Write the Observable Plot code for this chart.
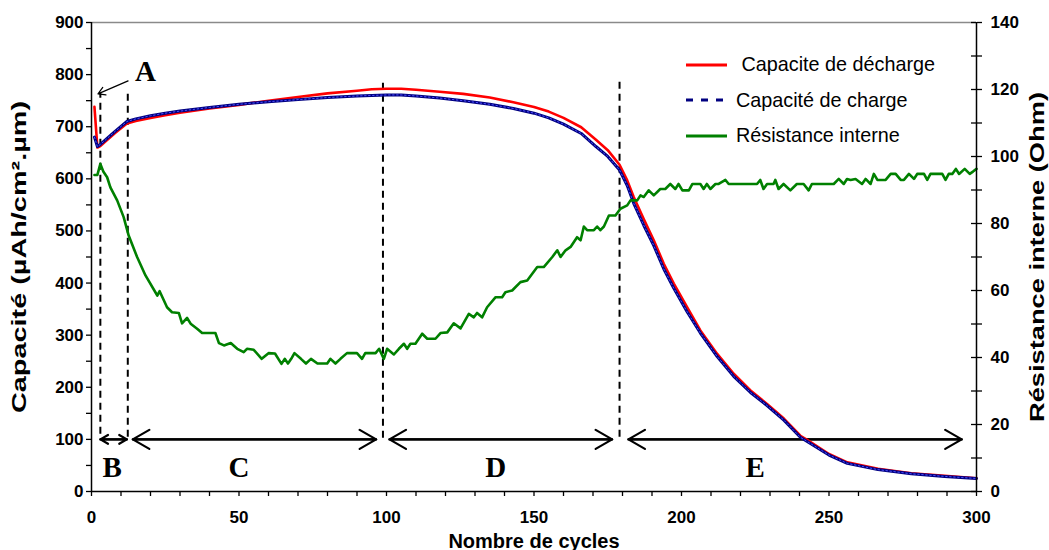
<!DOCTYPE html>
<html>
<head>
<meta charset="utf-8">
<script src="https://cdn.jsdelivr.net/npm/d3@7"></script>
<script src="https://cdn.jsdelivr.net/npm/@observablehq/plot@0.6"></script>
<style>
  html, body { margin: 0; padding: 0; background: #fff; }
  #wrap { position: relative; width: 1049px; height: 550px; }
  #legend { position: absolute; left: 686px; top: 47px; font-family: "Liberation Sans", Arial, sans-serif; font-size: 19.8px; color: #000; }
  #legend .row { display: flex; align-items: center; height: 35.5px; white-space: pre; }
  #legend svg { flex: none; display: block; }
</style>
</head>
<body>
<div id="wrap"></div>
<script>
// ---------- data ----------
const cycDis = [1,2,3,5,8,12,15,20,25,30,40,50,60,70,80,90,95,100,105,110,118,126,135,143,150,155,160,166,171,175,179,181.6,183.8,187.2,190.6,194,197.4,201.9,206.4,212.1,217.7,223.4,229,234.7,240.3,242.6,250,256.2,266.6,277.9,289.2,300];
const capDis = [738,660,663,673,688,706,711,717,722,727,735,742,750,757,764,769,772,773,773,771,767,763,756,747,738,729,717,699,675,655,627,597,565,523,482,437,399,354,309,264,226,194,168,140,107,99,72,56,43.5,35,30,25.5];

const cycCh = [1,2,3,5,8,12,15,20,25,30,40,50,60,70,80,90,95,100,105,110,118,126,135,143,150,155,160,166,171,175,179,181.6,183.8,187.2,190.6,194,197.4,201.9,206.4,212.1,217.7,223.4,229,234.7,240.3,242.6,250,256.2,266.6,277.9,289.2,300];
const capCh = [680,662,666,676,691,710,715,721,726,730,737,743,748,752,756,759,760,761,761,759,755,750,743,735,726,717,705,687,662,643,617,587,553,511,472,427,390,345,304,259,221,190,165,137,104,96,70,54,42,34,29,25];

const cycRes = [1,2,3,4,5.3,6.4,8.7,10.9,12.6,15.5,18.3,22.3,23.1,25.6,27.3,29.6,30.7,32.4,33.6,35.8,37.5,42,43.2,44.9,47.2,49.4,51.6,52.7,55,57.7,60,62.2,64.4,65.5,66.6,67.7,68.8,71,72.7,74.4,76.6,79.9,81,82.7,84.4,86.6,90,91.7,92.8,96.3,97.5,99.1,100.2,102.5,104.2,105.9,107,108.1,109.8,112.1,113.8,116.6,118.3,120.6,122.8,125.1,127.9,129.6,130.7,132.4,134.1,137,139.2,140.3,142.6,145.4,147.7,151.1,153.3,156.2,157.9,159,160.7,162.4,164.6,165.8,166.9,168,170.3,171.4,172.5,173.7,175.4,177.6,179.3,181.6,182.7,185,186.1,187.2,188.9,190.6,192.8,194.5,196.2,197.9,199,200.3,202.5,203.7,206.4,207.5,208.6,209.8,211.5,212.6,214.9,216,225.6,226.7,227.8,229,231.2,231.8,232.9,234.6,236.9,239.1,241.4,243.1,244.2,251.6,253.3,255,256.1,257.3,259,261.2,262.4,264.1,265.2,266.4,269.2,270.9,272.6,274.3,275.4,277.1,278.8,279.9,282.2,283.3,284.4,288.4,289.5,290.6,291.8,293,294.1,296,297.7,298.8,300];
const resOhm = [94.5,94.5,97.8,95.5,93.8,90.8,86.9,81.9,76.4,69.9,64.5,58.5,59.8,55,53.5,53.3,50.2,51.8,50.1,48.6,47.3,47.3,44.3,43.6,44.3,42.6,41.6,42.6,42.3,39.6,41.3,41.2,38.1,39.6,38.2,39.6,41.3,39.6,38.2,39.6,38.2,38.2,39.6,38.2,39.6,41.3,41.3,39.6,41.3,41.3,42.6,39.6,42.6,40.9,42.6,44.1,42.6,44.1,44.1,47.1,45.6,45.6,47.3,47.5,50.2,48.7,53,52,53.3,52,55,58,58,59.5,60,62.5,63,67,67,70,72,70,72,73,75.9,75,79.1,78,78,79.1,78,79.1,82.4,82.4,84.4,85.4,86.9,86.9,88.4,87.9,89.9,88.4,90.3,90.3,91.8,90.3,91.8,89.9,89.9,91.8,91.8,90.3,91.8,90.3,91.8,91.8,93,91.8,91.8,93,90.3,91.8,91.8,93,90.3,91.8,89.9,91.8,91.8,89.9,91.8,91.8,93.3,91.8,93.3,93,93.3,91.8,93.3,91.8,94.8,93,93,94.8,94.8,93,93,94.8,93.3,94.8,94.8,93,94.8,94.8,93,94.8,94.8,96.3,94.8,96.3,94.8,95.5,96.3];

// phase dividers (dashed verticals) and phase arrows
const divCycle  = [3, 12.3, 98.8, 179];
const divTop    = [764, 764, 785, 790];
const divBottom = [110, 104, 102, 104];
const phaseStart = [3, 14, 101, 182];
const phaseEnd   = [12, 96.5, 176.5, 295];
const phaseLevel = 100;
const phaseLetters = ["B", "C", "D", "E"];
const letterCycle  = [7, 50, 137, 225];
const letterLevel  = 45;
const annotA = [{label: "A", tx: 18.3, ty: 806, x1: 12.4, y1: 788, x2: 2.2, y2: 763}];

const xTicks = d3.range(0, 301, 10);
const yTicks = d3.range(0, 901, 50);
const rTicks = d3.range(0, 141, 10);
const capMax = 900, resMax = 140;
const k = capMax / resMax;

const xTitle = "Nombre de cycles";
const yTitle = "Capacité (µAh/cm².µm)";
const rTitle = "Résistance interne (Ohm)";
const seriesNames = [" Capacite de décharge", "Capacité de charge", "Résistance interne"];
const colRed = "#ff0000", colBlue = "#000080", colGreen = "#008000";

// ---------- tables ----------
const dis = cycDis.map((c, i) => ({c, v: capDis[i]}));
const ch = cycCh.map((c, i) => ({c, v: capCh[i]}));
const res = cycRes.map((c, i) => ({c, v: resOhm[i] * k}));
const dividers = divCycle.map((c, i) => ({c, t: divTop[i], b: divBottom[i]}));
const phases = phaseStart.map((s, i) => ({s, e: phaseEnd[i]}));
const letters = phaseLetters.map((t, i) => ({t, c: letterCycle[i]}));

const font = "Liberation Sans, Arial, sans-serif";

const chart = Plot.plot({
  width: 1049, height: 550,
  marginLeft: 91, marginRight: 73, marginTop: 22, marginBottom: 59,
  x: {domain: [0, 300]},
  y: {domain: [0, capMax]},
  style: {fontFamily: font, background: "#fff", color: "#000", overflow: "visible"},
  marks: [
    Plot.ruleY([capMax], {stroke: "#8a8a8a", strokeWidth: 1.5}),
    Plot.ruleX(dividers, {x: "c", y1: "b", y2: "t", stroke: "#000", strokeWidth: 2, strokeDasharray: "7,5"}),
    Plot.arrow(phases, {x1: "s", x2: "e", y1: () => phaseLevel, y2: () => phaseLevel, stroke: "#000", strokeWidth: 2.2, headLength: 13, bend: 0}),
    Plot.arrow(phases, {x1: "e", x2: "s", y1: () => phaseLevel, y2: () => phaseLevel, stroke: "#000", strokeWidth: 2.2, headLength: 13, bend: 0}),
    Plot.line(dis, {x: "c", y: "v", stroke: colRed, strokeWidth: 2.6}),
    Plot.line(ch, {x: "c", y: "v", stroke: colBlue, strokeWidth: 3}),
    Plot.line(ch, {x: "c", y: "v", stroke: "#4d4dff", strokeWidth: 1, strokeDasharray: "1.5,2.5"}),
    Plot.line(res, {x: "c", y: "v", stroke: colGreen, strokeWidth: 2.6}),
    Plot.text(letters, {x: "c", y: () => letterLevel, text: "t", fontFamily: "Liberation Serif, Times New Roman, serif", fontWeight: "bold", fontSize: 29}),
    Plot.text(annotA, {x: "tx", y: "ty", text: "label", fontFamily: "Liberation Serif, Times New Roman, serif", fontWeight: "bold", fontSize: 29}),
    Plot.arrow(annotA, {x1: "x1", y1: "y1", x2: "x2", y2: "y2", stroke: "#000", strokeWidth: 1.2, headLength: 10, bend: 0}),
    // axes
    Plot.axisX({ticks: xTicks, tickFormat: d => d % 50 === 0 ? d : "", tickSize: 5, tickPadding: 14, fontSize: 17, fontWeight: "bold", label: null, strokeWidth: 1.3}),
    Plot.axisY({ticks: yTicks, tickFormat: d => d % 100 === 0 ? d : "", tickSize: 5, tickPadding: 3, anchor: "left", fontSize: 17, fontWeight: "bold", label: null, strokeWidth: 1.3}),
    Plot.axisY({ticks: rTicks.map(v => v * k), tickFormat: d => { const v = Math.round(d / k); return v % 20 === 0 ? v : ""; }, tickSize: 5, tickPadding: 9, anchor: "right", fontSize: 17, fontWeight: "bold", label: null, strokeWidth: 1.3}),
    Plot.ruleY(rTicks.map(v => v * k), {x1: () => 300, x2: () => 300, insetLeft: -5, stroke: "#000", strokeWidth: 1.3}),
    Plot.ruleX([0], {stroke: "#000", strokeWidth: 1.5}),
    Plot.ruleX([300], {stroke: "#000", strokeWidth: 1.5}),
    Plot.ruleY([0], {stroke: "#000", strokeWidth: 1.5}),
    // axis titles
    Plot.text([xTitle], {text: d => d, frameAnchor: "bottom", dy: 50, textAnchor: "middle", lineAnchor: "middle", fontSize: 20, fontWeight: "bold"}),
    Plot.text([yTitle], {text: d => d, frameAnchor: "left", dx: -72, rotate: -90, textAnchor: "middle", lineAnchor: "middle", fontSize: 20, fontWeight: "bold"}),
    Plot.text([rTitle], {text: d => d, frameAnchor: "right", dx: 61, rotate: -90, textAnchor: "middle", lineAnchor: "middle", fontSize: 20, fontWeight: "bold"})
  ]
});

// the vertical titles of the original are drawn stretched along their length
d3.select(chart).selectAll("text").each(function () {
  const t = this.textContent;
  if (t === yTitle) d3.select(this).attr("textLength", 312).attr("lengthAdjust", "spacingAndGlyphs");
  if (t === rTitle) d3.select(this).attr("textLength", 330).attr("lengthAdjust", "spacingAndGlyphs");
});

const wrap = document.getElementById("wrap");
wrap.appendChild(chart);

// legend (inside plot area, top right)
const legend = document.createElement("div");
legend.id = "legend";
const swatches = [
  `<svg width="50" height="10"><line x1="0" y1="5" x2="41" y2="5" stroke="${colRed}" stroke-width="3"/></svg>`,
  `<svg width="50" height="10"><line x1="0" y1="5" x2="41" y2="5" stroke="${colBlue}" stroke-width="3" stroke-dasharray="7,8"/></svg>`,
  `<svg width="50" height="10"><line x1="0" y1="5" x2="41" y2="5" stroke="${colGreen}" stroke-width="3"/></svg>`
];
seriesNames.forEach((name, i) => {
  const row = document.createElement("div");
  row.className = "row";
  row.innerHTML = swatches[i];
  const span = document.createElement("span");
  span.textContent = name;
  row.appendChild(span);
  legend.appendChild(row);
});
wrap.appendChild(legend);
</script>
</body>
</html>
